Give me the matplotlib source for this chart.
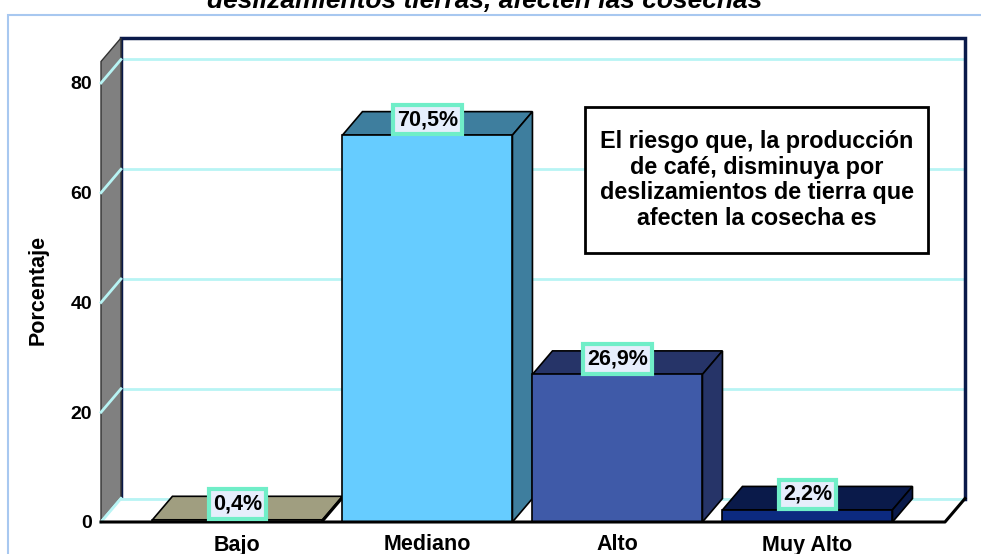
import matplotlib.pyplot as plt
from matplotlib.patches import Polygon, Rectangle

# ================= data
categorias = ['Bajo', 'Mediano', 'Alto', 'Muy Alto']
porcentajes = [0.4, 70.5, 26.9, 2.2]
etiquetas = ['0,4%', '70,5%', '26,9%', '2,2%']
y_ticks = [0, 20, 40, 60, 80]

titulo = 'deslizamientos tierras, afecten las cosechas'
leyenda = ('El riesgo que, la producción\nde café, disminuya por\n'
           'deslizamientos de tierra que\nafecten la cosecha es')

frente = ['#e8e2b4', '#66ccff', '#3f5aa8', '#0c2a80']
techo = ['#a09e80', '#3e7e9e', '#263468', '#0a1a4a']

plt.rcParams['font.family'] = ['Liberation Sans', 'DejaVu Sans']

W, H = 981, 554
fig = plt.figure(figsize=(W / 100, H / 100), dpi=100)

# front plane of the 3d box in pixels
px_left, px_right, px_bottom, px_top = 101, 965, 522, 38
ax = fig.add_axes([px_left / W, (H - px_bottom) / H,
                   (px_right - px_left) / W, (px_bottom - px_top) / H])

x_min, x_max = -0.718, 3.829
y_max = 88.2
ax.set_xlim(x_min, x_max)
ax.set_ylim(0, y_max)

ppx = (px_right - px_left) / (x_max - x_min)   # pixels per category unit
ppy = (px_bottom - px_top) / y_max             # pixels per percent
dx = 20 / ppx
dy = 23.5 / ppy
ancho = 170 / ppx

grid_c = '#b8f4f4'
navy = '#0a1a4a'

# back wall
ax.add_patch(Rectangle((x_min + dx, dy), x_max - x_min - dx, y_max - dy,
                       facecolor='white', edgecolor='none', zorder=1))
for t in y_ticks:
    ax.plot([x_min + dx, x_max], [t + dy, t + dy], color=grid_c, lw=2, zorder=2)
ax.plot([x_min + dx, x_min + dx, x_max, x_max], [dy, y_max, y_max, dy],
        color=navy, lw=2.5, zorder=3, solid_joinstyle='miter', clip_on=False)

# left wall
ax.add_patch(Polygon([(x_min, 0), (x_min, y_max - dy), (x_min + dx, y_max),
                      (x_min + dx, dy)], closed=True, facecolor='#808080',
                     edgecolor='#333333', lw=1, zorder=3, clip_on=False))
for t in y_ticks:
    ax.plot([x_min, x_min + dx], [t, t + dy], color=grid_c, lw=2, zorder=4,
            clip_on=False)

# floor
ax.add_patch(Polygon([(x_min, 0), (x_min + dx, dy), (x_max, dy),
                      (x_max - dx, 0)], closed=True, facecolor='white',
                     edgecolor='none', zorder=4, clip_on=False))
ax.plot([x_min, x_min + dx], [0, dy], color=grid_c, lw=2, zorder=5)
ax.plot([x_min + dx, x_max], [dy, dy], color=grid_c, lw=2, zorder=5)
ax.plot([x_min, x_max - dx, x_max], [0, 0, dy], color='black', lw=2.2,
        zorder=9, clip_on=False)

# bars
for i, v in enumerate(porcentajes):
    l, r = i - ancho / 2, i + ancho / 2
    ax.add_patch(Polygon([(l, v), (l + dx, v + dy), (r + dx, v + dy), (r, v)],
                         closed=True, facecolor=techo[i], edgecolor='black',
                         lw=1.2, zorder=6, clip_on=False))
    ax.add_patch(Polygon([(r, 0), (r + dx, dy), (r + dx, v + dy), (r, v)],
                         closed=True, facecolor=techo[i], edgecolor='black',
                         lw=1.2, zorder=6, clip_on=False))
    ax.add_patch(Rectangle((l, 0), ancho, v, facecolor=frente[i],
                           edgecolor='black', lw=1.2, zorder=7, clip_on=False))
    ax.text(i, v + 15.5 / ppy, etiquetas[i], ha='center', va='center',
            fontsize=15.5, fontweight='bold', zorder=10,
            bbox=dict(boxstyle='square,pad=0.2', facecolor='#e6eefc',
                      edgecolor='#70eec8', lw=3))

# axes ticks
ax.set_xticks(range(len(categorias)))
ax.set_xticklabels(categorias, fontsize=15.5, fontweight='bold')
ax.set_yticks(y_ticks)
ax.set_yticklabels([str(t) for t in y_ticks], fontsize=14, fontweight='bold')
ax.tick_params(axis='x', length=0, pad=9)
ax.tick_params(axis='y', length=0, pad=6.5)
for s in ax.spines.values():
    s.set_visible(False)

fig.text(38 / W, 1 - 290 / H, 'Porcentaje', rotation=90, ha='center',
         va='center', fontsize=15.5, fontweight='bold')

# legend box
bx0, by0, bx1, by1 = 585, 107, 928, 253
fig.patches.append(Rectangle((bx0 / W, 1 - by1 / H), (bx1 - bx0) / W,
                             (by1 - by0) / H, transform=fig.transFigure,
                             facecolor='white', edgecolor='black', lw=2,
                             zorder=20))
fig.text((bx0 + bx1) / 2 / W, 1 - (by0 + by1) / 2 / H, leyenda, ha='center',
         va='center', fontsize=16.8, fontweight='bold', linespacing=1.15,
         zorder=21)

# outer frame and cut title (cut at the top edge, as in the source image)
fig.patches.append(Rectangle((8 / W, -0.1), 1.1, 1.1 - 15 / H,
                             transform=fig.transFigure, facecolor='none',
                             edgecolor='#a8c8f0', lw=1.5))
fig.text(485 / W, 1 - 8 / H, titulo, ha='center', va='baseline',
         fontsize=19, fontweight='bold', fontstyle='italic')

fig.savefig('out.png', dpi=100)
